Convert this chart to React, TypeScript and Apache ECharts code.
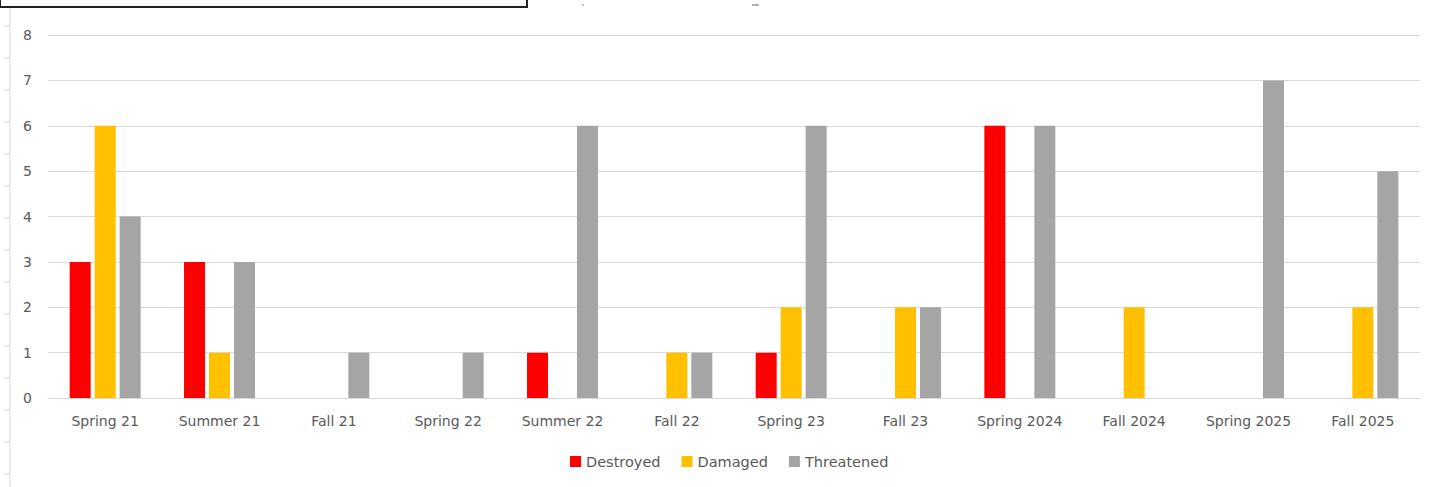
import React, { useEffect, useRef } from "react";
import * as echarts from "echarts";

const categories = [
  "Spring 21", "Summer 21", "Fall 21", "Spring 22", "Summer 22", "Fall 22",
  "Spring 23", "Fall 23", "Spring 2024", "Fall 2024", "Spring 2025", "Fall 2025",
];
const destroyed = [3, 3, 0, 0, 1, 0, 1, 0, 6, 0, 0, 0];
const damaged = [6, 1, 0, 0, 0, 1, 2, 2, 0, 2, 0, 2];
const threatened = [4, 3, 1, 1, 6, 1, 6, 2, 6, 0, 7, 5];
const yTicks = [0, 1, 2, 3, 4, 5, 6, 7, 8];

export default function App() {
  const ref = useRef<HTMLDivElement>(null);
  useEffect(() => {
    if (!ref.current) return;
    const chart = echarts.init(ref.current, undefined, { renderer: "svg" });
    const font = "'DejaVu Sans', sans-serif";
    const rowTicks: any[] = [];
    for (let i = 0; i < 15; i++) {
      const y = 26 + i * 32;
      rowTicks.push({
        type: "line",
        shape: { x1: 4, y1: y, x2: 10, y2: y },
        style: { stroke: "#d0d0d0", lineWidth: 1 },
        silent: true,
      });
    }
    chart.setOption({
      animation: false,
      backgroundColor: "#ffffff",
      textStyle: { fontFamily: font },
      graphic: [
        {
          type: "line",
          shape: { x1: 10, y1: 8, x2: 10, y2: 487 },
          style: { stroke: "#d6d6d6", lineWidth: 1 },
          silent: true,
        },
        ...rowTicks,
        {
          type: "rect",
          shape: { x: 0, y: -4, width: 527, height: 11 },
          style: { fill: "#ffffff", stroke: "#222222", lineWidth: 2 },
          silent: true,
        },
        {
          type: "line",
          shape: { x1: 582, y1: 5, x2: 584, y2: 5 },
          style: { stroke: "#888", lineWidth: 1 },
        },
        {
          type: "line",
          shape: { x1: 752, y1: 5, x2: 759, y2: 5 },
          style: { stroke: "#666", lineWidth: 1 },
        },
      ],
      legend: {
        bottom: 13,
        left: 565,
        itemWidth: 11,
        itemHeight: 11,
        itemGap: 21,
        icon: "rect",
        textStyle: { color: "#595959", fontSize: 14.5, fontFamily: font },
        data: ["Destroyed", "Damaged", "Threatened"],
      },
      grid: { left: 48, right: 12, top: 35, bottom: 89, containLabel: false },
      xAxis: {
        type: "category",
        data: categories,
        axisLine: { lineStyle: { color: "#d9d9d9", width: 1 } },
        axisTick: { show: false },
        axisLabel: { color: "#595959", fontSize: 14, margin: 16, fontFamily: font },
      },
      yAxis: {
        type: "value",
        min: yTicks[0],
        max: yTicks[yTicks.length - 1],
        interval: 1,
        axisLine: { show: false },
        axisTick: { show: false },
        axisLabel: { color: "#595959", fontSize: 14, margin: 16, fontFamily: font },
        splitLine: { lineStyle: { color: "#d9d9d9", width: 1 } },
      },
      series: [
        { name: "Destroyed", type: "bar", data: destroyed, barWidth: 21, barGap: "19%", itemStyle: { color: "#ff0000" } },
        { name: "Damaged", type: "bar", data: damaged, barWidth: 21, barGap: "19%", itemStyle: { color: "#ffc000" } },
        { name: "Threatened", type: "bar", data: threatened, barWidth: 21, barGap: "19%", itemStyle: { color: "#a5a5a5" } },
      ],
    });
    return () => chart.dispose();
  }, []);
  return (
    <div
      ref={ref}
      style={{ position: "fixed", left: 0, top: 0, width: 1432, height: 487 }}
    />
  );
}
